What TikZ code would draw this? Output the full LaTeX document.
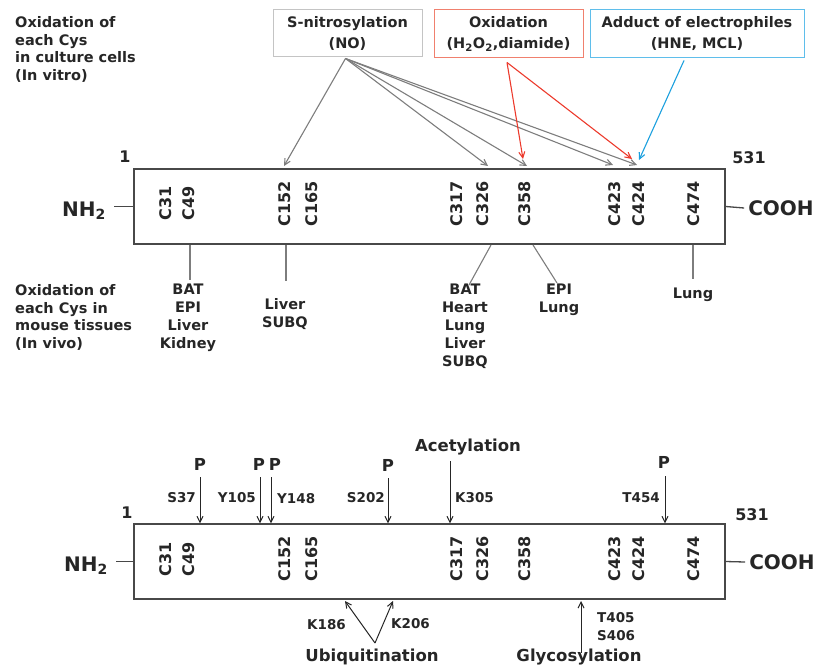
\documentclass[tikz,border=0pt]{standalone}
\usepackage{fontspec}
\setmainfont{DejaVu Sans}
\usetikzlibrary{arrows.meta, positioning, calc}
\definecolor{textdark}{RGB}{38, 38, 38}
\definecolor{framegray}{RGB}{72, 72, 72}
\definecolor{linegray}{RGB}{125, 125, 125}
\definecolor{nogray}{RGB}{196, 196, 196}
\definecolor{oxframe}{RGB}{240, 128, 110}
\definecolor{oxred}{RGB}{236, 58, 44}
\definecolor{elframe}{RGB}{95, 190, 235}
\definecolor{elblue}{RGB}{28, 160, 222}
\tikzset{
  prot/.style     = {rectangle, draw=framegray, line width=1.3pt, minimum width=591pt, minimum height=75pt, inner sep=0pt},
  cys/.style      = {rotate=90, inner sep=0pt, text=textdark, font=\fontsize{16}{16}\selectfont\bfseries},
  agent/.style    = {rectangle, line width=1pt, align=center, inner sep=0pt, text=textdark, font=\fontsize{14.5}{21}\selectfont\bfseries},
  note/.style     = {anchor=north west, align=left, inner sep=0pt, text=textdark, font=\fontsize{14.5}{17.8}\selectfont\bfseries},
  tis/.style      = {anchor=north, align=center, inner sep=0pt, text=textdark, font=\fontsize{14.5}{18}\selectfont\bfseries},
  term/.style     = {inner sep=0pt, text=textdark, font=\fontsize{20}{20}\selectfont\bfseries},
  num/.style      = {inner sep=0pt, text=textdark, font=\fontsize{16}{16}\selectfont\bfseries},
  site/.style     = {inner sep=0pt, align=left, text=textdark, font=\fontsize{13.5}{18}\selectfont\bfseries},
  ptm/.style      = {inner sep=0pt, text=textdark, font=\fontsize{16.5}{16.5}\selectfont\bfseries},
  flowno/.style   = {->, line width=1.1pt, linegray},
  flowox/.style   = {->, line width=1.1pt, oxred},
  flowel/.style   = {->, line width=1.1pt, elblue},
  ptmarr/.style   = {->, line width=1pt, textdark},
  tline/.style    = {line width=1.1pt, linegray},
  tick/.style     = {line width=1.3pt, framegray},
}

\begin{document}
\begin{tikzpicture}[x=1pt, y=-1pt, >={Straight Barb[length=6pt,width=6pt]}]
\useasboundingbox (0,0) rectangle (818,666);

% ===== upper panel: cysteine oxidation =====
\node[note] (vitro) at (15,16) {Oxidation of\\each Cys\\in culture cells\\(In vitro)};
\node[note] (vivo) at (15,284) {Oxidation of\\each Cys in\\mouse tissues\\(In vivo)};

\node[prot] (box1) at (429.5,206.5) {};
\node[num] (n1a) at (125,157) {1};
\node[num] (n531a) at (749,158) {531};
\node[term] (nh1) at (84,211) {NH\textsubscript{2}};
\node[term] (co1) at (781,208) {COOH};
\draw[tick] ([xshift=8pt]nh1.east |- box1.west) -- (box1.west);
\draw[tick] (box1.east) -- ([xshift=-4pt]co1.west);
\foreach \nm/\xx in {31/166, 49/189, 152/285, 165/312, 317/457, 326/483, 358/525, 423/615, 424/639, 474/694}
  \node[cys] (c\nm) at (\xx,203.5) {C\nm};

% treatments
\node[agent, draw=nogray, minimum width=149pt, minimum height=47pt] (sno) at (347.5,33.5) {S-nitrosylation\\(NO)};
\node[agent, draw=oxframe, minimum width=149pt, minimum height=48pt] (oxi) at (508.5,34) {Oxidation\\(H\textsubscript{2}O\textsubscript{2},diamide)};
\node[agent, draw=elframe, minimum width=214pt, minimum height=48pt] (elec) at (697,34) {Adduct of electrophiles\\(HNE, MCL)};

\coordinate (nosrc) at ([xshift=-2pt,yshift=-1pt]sno.south);
\coordinate (oxsrc) at ([xshift=-1.5pt,yshift=-4pt]oxi.south);
\coordinate (elsrc) at ([xshift=-13pt,yshift=-2pt]elec.south);
\coordinate (no152) at (284,166);
\coordinate (no326) at (488,166);
\coordinate (no358) at (527,166);
\coordinate (no423) at (613,165);
\coordinate (no424) at (637,165);
\coordinate (ox358) at (523,159);
\coordinate (ox424) at (632,159);
\coordinate (el424) at (639,160);
\foreach \tg in {no152, no326, no358, no423, no424}
  \draw[flowno] (nosrc) -- (\tg);
\draw[flowox] (oxsrc) -- (ox358);
\draw[flowox] (oxsrc) -- (ox424);
\draw[flowel] (elsrc) -- (el424);

% tissues
\node[tis] (tisa) at (188,284) {BAT\\EPI\\Liver\\Kidney};
\node[tis] (tisb) at (285,298) {Liver\\SUBQ};
\node[tis] (tisc) at (465,284) {BAT\\Heart\\Lung\\Liver\\SUBQ};
\node[tis] (tisd) at (559,284) {EPI\\Lung};
\node[tis] (tise) at (693,288) {Lung};
\coordinate (ba) at (190,245);
\coordinate (bb) at (286,245);
\coordinate (bc) at (491,245);
\coordinate (bd) at (533,245);
\coordinate (be) at (693,245);
\draw[tline] (ba) -- (190,280);
\draw[tline] (bb) -- (286,281);
\draw[tline] (bc) -- (469,285);
\draw[tline] (bd) -- (557,283);
\draw[tline] (be) -- (693,279);

% ===== lower panel: other modifications =====
\node[prot] (box2) at (429.5,561.5) {};
\node[num] (n1b) at (127,513) {1};
\node[num] (n531b) at (752,515) {531};
\node[term] (nh2) at (86,566) {NH\textsubscript{2}};
\node[term] (co2) at (782,562) {COOH};
\draw[tick] ([xshift=8pt]nh2.east |- box2.west) -- (box2.west);
\draw[tick] (box2.east) -- ([xshift=-4pt]co2.west);
\foreach \nm/\xx in {31/166, 49/189, 152/285, 165/312, 317/457, 326/483, 358/525, 423/615, 424/639, 474/694}
  \node[cys] (d\nm) at (\xx,559) {C\nm};

% phosphorylation
\node[ptm] (p37) at (200,464) {P};
\node[ptm] (p105) at (259,464) {P};
\node[ptm] (p148) at (275,464) {P};
\node[ptm] (p202) at (388,465) {P};
\node[ptm] (p454) at (664,462) {P};
\draw[ptmarr] ([yshift=-7pt]p37.south) -- (p37.south |- box2.north);
\draw[ptmarr] ([xshift=1pt,yshift=-7pt]p105.south) -- ([xshift=1pt]p105.south |- box2.north);
\draw[ptmarr] ([xshift=-4pt,yshift=-7pt]p148.south) -- ([xshift=-4pt]p148.south |- box2.north);
\draw[ptmarr] ([yshift=-7pt]p202.south) -- (p202.south |- box2.north);
\draw[ptmarr] ([xshift=1pt,yshift=-8pt]p454.south) -- ([xshift=1pt]p454.south |- box2.north);
\node[site, anchor=east] (s37) at (196,498) {S37};
\node[site, anchor=east] (y105) at (256,498) {Y105};
\node[site, anchor=west] (y148) at (277,499) {Y148};
\node[site, anchor=east] (s202) at (385,498) {S202};
\node[site, anchor=west] (k305) at (455,498) {K305};
\node[site, anchor=east] (t454) at (660,498) {T454};

% acetylation
\node[ptm] (acet) at (468,447) {Acetylation};
\draw[ptmarr] ([xshift=-18pt,yshift=-6pt]acet.south) -- ([xshift=-18pt]acet.south |- box2.north);

% ubiquitination
\node[ptm] (ubi) at (372,657) {Ubiquitination};
\coordinate (ubtop) at (375,643);
\coordinate (k186) at (345,601);
\coordinate (k206) at (393,601);
\draw[ptmarr] (ubtop) -- (k186);
\draw[ptmarr] (ubtop) -- (k206);
\node[site, anchor=east] (lk186) at (346,625) {K186};
\node[site, anchor=west] (lk206) at (391,624) {K206};

% glycosylation
\node[ptm] (glyc) at (579,657) {Glycosylation};
\coordinate (glytop) at (581,601);
\draw[ptmarr] ([xshift=2pt,yshift=-4pt]glyc.north) -- (glytop);
\node[site, anchor=west] (ts406) at (597,627) {T405\\S406};

\end{tikzpicture}
\end{document}
